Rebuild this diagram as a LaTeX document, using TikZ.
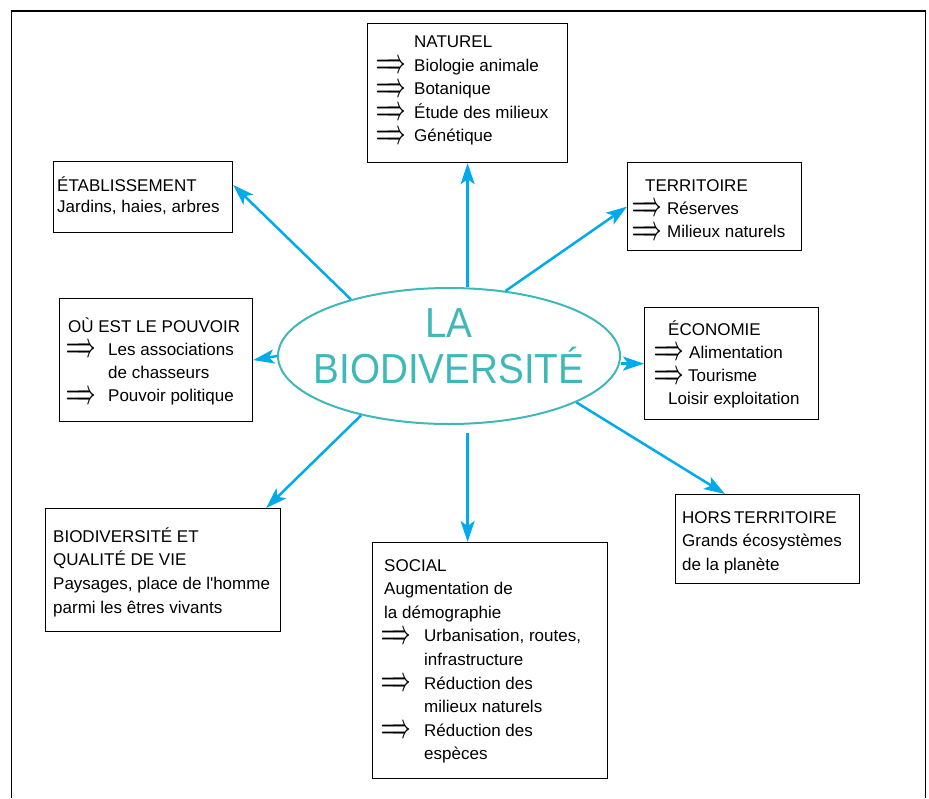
\documentclass[tikz,border=0pt]{standalone}
\usepackage{fontspec}
\usepackage{graphicx}
\setmainfont{Liberation Sans}
\newfontfamily\titlefont[FakeStretch=0.92]{Liberation Sans}
\usetikzlibrary{arrows.meta,shapes.geometric,calc}
\definecolor{cyanA}{RGB}{0,170,235}
\definecolor{tealA}{RGB}{62,184,184}
\newcommand\Dbl{\raisebox{-1.5pt}{\resizebox*{29pt}{12.5pt}{\boldmath$\Longrightarrow$}}}
\newcommand\Ln[2]{\hbox{\kern#1pt #2}}
\newcommand\Ar[3]{\hbox{\kern#1pt\rlap{\Dbl}\kern#2pt #3}}
\newcommand\Stack[2]{\vtop{\baselineskip=#1pt\lineskiplimit=-100pt\lineskip=0pt #2}}
\begin{document}
\begin{tikzpicture}[x=1pt,y=-1pt,
  box/.style={draw, line width=1.2pt, rectangle, anchor=north west, inner sep=0pt},
  txt/.style={anchor=base west, inner sep=0pt, font=\fontsize{17}{23.5}\selectfont},
  link/.style={draw=cyanA, line width=2.5pt, -{Stealth[length=21pt,width=14pt,inset=5pt]}},
]
\useasboundingbox (0,0) rectangle (929,798);
\draw[line width=1.2pt] (11.5,798) -- (11.5,11) -- (925.5,11) -- (925.5,798);

% central ellipse
\node[draw=tealA, line width=2pt, ellipse, minimum width=342pt, minimum height=136pt, inner sep=0pt] (bio) at (449,356) {};
\node[anchor=base, inner sep=0pt, text=tealA, font=\titlefont\fontsize{42}{46}\selectfont] (title) at (449,337)
  {\vtop{\baselineskip=46pt\lineskiplimit=-100pt\hbox to 300pt{\hss LA\hss}\hbox to 300pt{\hss BIODIVERSITÉ\hss}}};

% boxes
\node[box, minimum width=200pt, minimum height=139pt] (nat) at (367,23) {};
\node[txt] (natT) at (376,47.5) {\Stack{23.5}{\Ln{38}{NATUREL}\Ar{0}{38}{Biologie animale}\Ar{0}{38}{Botanique}\Ar{0}{38}{Étude des milieux}\Ar{0}{38}{Génétique}}};

\node[box, minimum width=179pt, minimum height=71pt] (eta) at (53,161) {};
\node[txt] (etaT) at (57,191) {\Stack{21.6}{\Ln{0}{ÉTABLISSEMENT}\Ln{0}{Jardins, haies, arbres}}};

\node[box, minimum width=174pt, minimum height=88pt] (ter) at (627,162) {};
\node[txt] (terT) at (632,191) {\Stack{23.3}{\Ln{13}{TERRITOIRE}\Ar{0}{35}{Réserves}\Ar{0}{35}{Milieux naturels}}};

\node[box, minimum width=193pt, minimum height=123pt] (pou) at (59,298) {};
\node[txt] (pouT) at (66,332) {\Stack{23.3}{\Ln{2}{OÙ EST LE POUVOIR}\Ar{0}{42}{Les associations}\Ln{42}{de chasseurs}\Ar{0}{42}{Pouvoir politique}}};

\node[box, minimum width=174pt, minimum height=112pt] (eco) at (644,307) {};
\node[txt] (ecoT) at (654,335) {\Stack{23.3}{\Ln{14}{ÉCONOMIE}\Ar{0}{35}{Alimentation}\Ar{0}{34}{Tourisme}\Ln{14}{Loisir exploitation}}};

\node[box, minimum width=184pt, minimum height=89pt] (hor) at (675,494) {};
\node[txt] (horT) at (682,523) {\Stack{23.5}{\Ln{0}{HORS\kern-2pt{} TERRITOIRE}\Ln{0}{Grands écosystèmes}\Ln{0}{de la planète}}};

\node[box, minimum width=235pt, minimum height=123pt] (qua) at (45,508) {};
\node[txt] (quaT) at (53,542) {\Stack{23.7}{\Ln{0}{BIODIVERSITÉ ET}\Ln{0}{QUALITÉ DE VIE}\Ln{0}{Paysages, place de l\textquotesingle homme}\Ln{0}{parmi les êtres vivants}}};

\node[box, minimum width=235pt, minimum height=236pt] (soc) at (372,542) {};
\node[txt] (socT) at (381,571) {\Stack{23.6}{\Ln{3}{SOCIAL}\Ln{3}{Augmentation de}\Ln{3}{la démographie}\Ar{0}{43}{Urbanisation, routes,}\Ln{43}{infrastructure}\Ar{0}{43}{Réduction des}\Ln{43}{milieux naturels}\Ar{0}{43}{Réduction des}\Ln{43}{espèces}}};

% connectors
\draw[link] (bio.north -| nat.south) -- (nat.south);
\draw[link] (bio.150) -- ($(eta.north east)+(0,24)$);
\draw[link] (bio.49) -- (ter.west);
\draw[link] (bio.west) -- (pou.east);
\draw[link] (eco.west -| bio.east) -- (eco.west);
\draw[link] (bio.214) -- ($(qua.north east)+(-15,0)$);
\draw[link] ($(bio.south -| nat.south)+(0,8)$) -- (nat.south |- soc.north);
\draw[link] (bio.340) -- ($(hor.north west)+(50,0)$);
\end{tikzpicture}
\end{document}
